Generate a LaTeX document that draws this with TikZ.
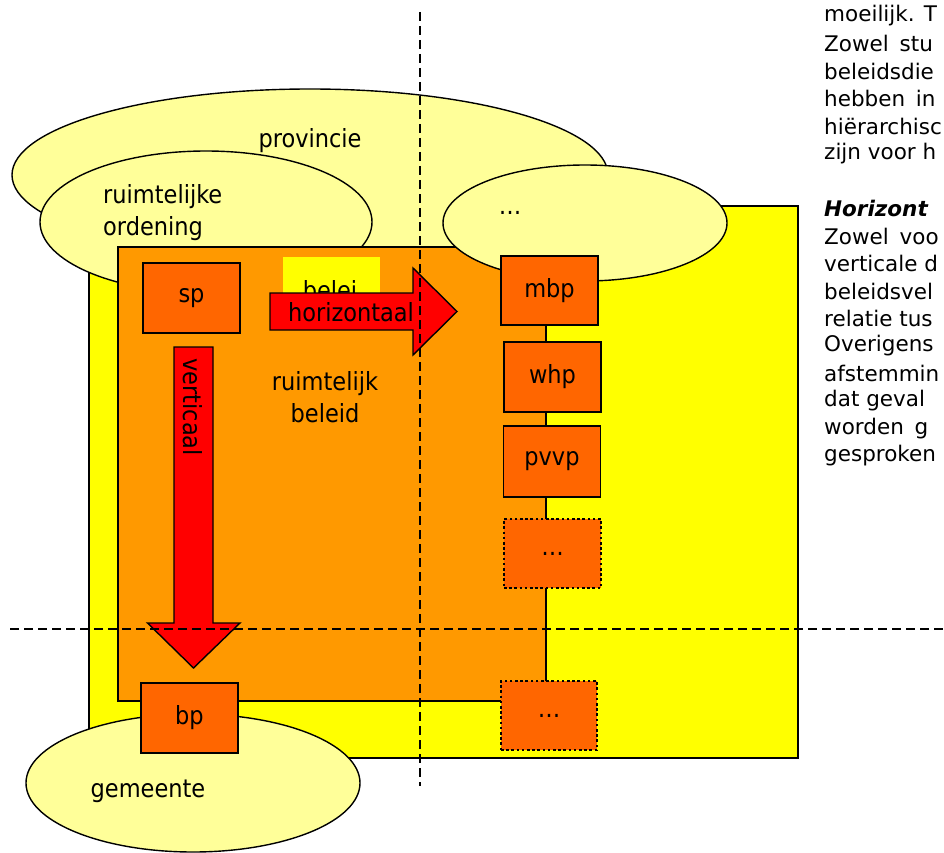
\documentclass[tikz,border=0pt]{standalone}
\usepackage{fontspec}
\setmainfont{DejaVu Sans Condensed}
\newfontfamily\prosefont{DejaVu Sans}
\usetikzlibrary{shapes.geometric}
\definecolor{fieldyellow}{HTML}{FFFF00}
\definecolor{paleyellow}{HTML}{FFFF99}
\definecolor{policyorange}{HTML}{FF9900}
\definecolor{planorange}{HTML}{FF6600}
\definecolor{arrowred}{HTML}{FF0000}
\begin{document}
\begin{tikzpicture}[x=1pt,y=-1pt,
  region/.style={draw=black,line width=1.4pt},
  blob/.style={ellipse,draw=black,fill=paleyellow,line width=1.4pt,inner sep=0pt},
  plan/.style={rectangle,draw=black,fill=planorange,line width=1.6pt,inner sep=0pt,
    minimum width=97pt,minimum height=70pt,font=\fontsize{25}{30}\selectfont},
  openplan/.style={plan,dash pattern=on 2.6pt off 2.6pt,line width=2pt},
  lbl/.style={inner sep=0pt,font=\fontsize{25}{32}\selectfont},
  bigarrow/.style={draw=black,fill=arrowred,line width=1.4pt,line join=miter},
  guide/.style={draw=black,line width=1.5pt,dash pattern=on 9pt off 5pt},
  prose/.style={anchor=west,inner sep=0pt,font=\prosefont\fontsize{21.5}{27}\selectfont}]
\useasboundingbox (0,0) rectangle (944,853);

% levels of government and sectors
\node[region,fill=fieldyellow,minimum width=709pt,minimum height=552pt,inner sep=0pt] (field) at (443.5,482) {};
\node[blob,minimum width=596pt,minimum height=172pt] (prov) at (310,175) {};
\node[blob,minimum width=332pt,minimum height=142pt] (ro) at (206,222) {};
\node[region,fill=policyorange,minimum width=428pt,minimum height=454pt,inner sep=0pt] (rb) at (332,474) {};
\node[blob,minimum width=284pt,minimum height=116pt] (other) at (585,223) {};
\node[blob,minimum width=334pt,minimum height=138pt] (gem) at (193,783) {};

\node[lbl] (provtxt) at (310,141) {provincie};
\node[lbl,anchor=west,align=left] (rotxt) at (103,213) {ruimtelijke\\ordening};
\node[lbl] (othertxt) at (510,213) {\dots};
\node[lbl] (gemtxt) at (148,791) {gemeente};
\node[lbl,align=center] (rbtxt) at (325,397) {ruimtelijk\\beleid};

% plans
\node[plan] (sp) at (191.5,298) {sp};
\node[plan] (bp) at (189.5,718) {bp};
\node[plan,minimum height=69pt] (mbp) at (549.5,290.5) {mbp};
\node[plan] (whp) at (552.5,377) {whp};
\node[plan,minimum height=71pt] (pvvp) at (552,461.5) {pvvp};
\node[openplan,minimum height=69pt] (more1) at (552.5,553.5) {\dots};
\node[openplan,minimum width=96pt,minimum height=69pt] (more2) at (549,715.5) {\dots};

% small policy label, its lower part hidden by the arrow
\node[fill=fieldyellow,minimum width=97pt,minimum height=63pt,inner sep=0pt] (beltag) at (331.5,288.5) {};
\begin{scope}
  \clip (283,257) rectangle (380,292.5);
  \node[lbl,anchor=base,text depth=0pt] (beltxt) at (330,299.5) {belei};
\end{scope}

% horizontal and vertical coordination arrows
\coordinate (ha) at (270,311.5);
\coordinate (va) at (193.5,347);
\draw[bigarrow] (ha) ++(0,-18.5) -- ++(143,0) -- ++(0,-25) -- ++(44,43.5) -- ++(-44,43.5)
  -- ++(0,-25) -- ++(-143,0) -- cycle;
\draw[bigarrow] (va) ++(-19.5,0) -- ++(39,0) -- ++(0,276) -- ++(27,0) -- ++(-46.5,45)
  -- ++(-46,-45) -- ++(26.5,0) -- cycle;
\node[lbl] (htxt) at (351,312) {horizontaal};
\node[lbl,rotate=-90] (vtxt) at (193,407) {verticaal};

% separation lines
\coordinate (vtop) at (420,12);
\coordinate (vbot) at (420,786);
\coordinate (hleft) at (10,629);
\coordinate (hright) at (944,629);
\draw[guide] (vtop) -- (vbot);
\draw[guide] (hleft) -- (hright);

% running text
\node[prose] (p0) at (824,16) {moeilijk. T};
\node[prose] (p1) at (824,43.5) {Zowel\hspace{0.5em}stu};
\node[prose] (p2) at (824,71) {beleidsdie};
\node[prose] (p3) at (824,98.5) {hebben\hspace{0.5em}in};
\node[prose] (p4) at (824,126) {hiërarchisc};
\node[prose] (p5) at (824,153.5) {zijn voor h};
\node[prose,font=\prosefont\fontsize{21.5}{27}\selectfont\bfseries\itshape] (p7) at (824,208.5) {Horizont};
\node[prose] (p8) at (824,236) {Zowel\hspace{0.5em}voo};
\node[prose] (p9) at (824,263.5) {verticale d};
\node[prose] (p10) at (824,291) {beleidsvel};
\node[prose] (p11) at (824,318.5) {relatie tus};
\node[prose] (p12) at (824,346) {Overigens};
\node[prose] (p13) at (824,373.5) {afstemmin};
\node[prose] (p14) at (824,401) {dat geval};
\node[prose] (p15) at (824,428.5) {worden\hspace{0.5em}g};
\node[prose] (p16) at (824,456) {gesproken};
\end{tikzpicture}
\end{document}
